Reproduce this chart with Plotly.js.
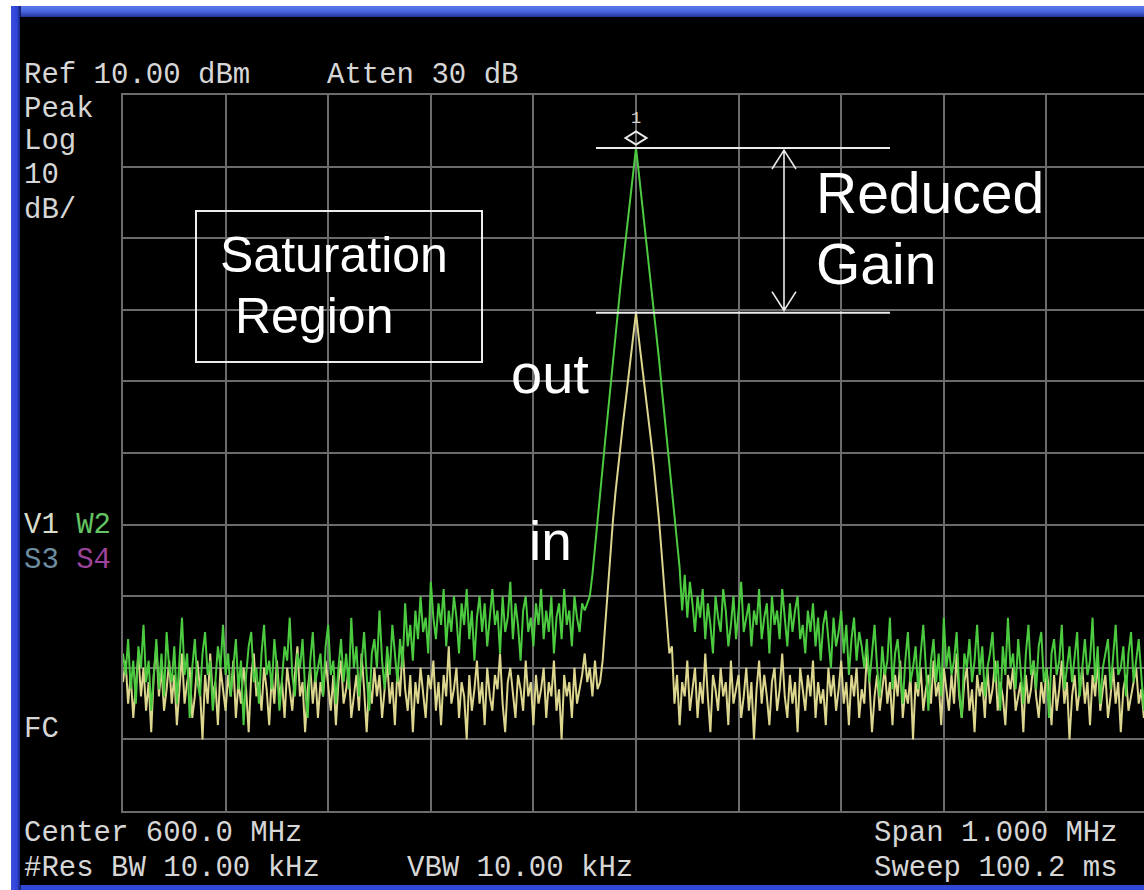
<!DOCTYPE html>
<html>
<head>
<meta charset="utf-8">
<script src="https://cdn.plot.ly/plotly-3.0.1.min.js"></script>
<style>
  html, body { margin: 0; padding: 0; background: #ffffff; width: 1144px; height: 890px; overflow: hidden; }
  #frame { position: absolute; left: 11px; top: 6px; width: 1133px; height: 884px; background: #3148d6; }
  #topband { position: absolute; left: 11px; top: 6px; width: 1133px; height: 12px;
             background: linear-gradient(to bottom, #5b78ea 0%, #4a66e2 45%, #1c2a8a 100%); }
  #leftband { position: absolute; left: 11px; top: 6px; width: 10px; height: 884px;
              background: linear-gradient(to right, #3a4fe0 0%, #2f44d8 60%, #101a60 100%); }
  #chart { position: absolute; left: 20px; top: 17px; width: 1124px; height: 868px; background: #000; }
</style>
</head>
<body>
<div id="frame"></div>
<div id="topband"></div>
<div id="leftband"></div>
<div id="chart"></div>
<script>
// Analyzer settings
const CENTER_MHZ = 600.0;
const SPAN_MHZ = 1.0;
const REF_DBM = 10;
const DB_PER_DIV = 10;
const DIVS = 10;

// Header / footer annotation texts
const refText = 'Ref 10.00 dBm';
const attenText = 'Atten 30 dB';
const leftLabels = ['Peak', 'Log', '10', 'dB/'];
const centerText = 'Center 600.0 MHz';
const rbwText = '#Res BW 10.00 kHz';
const vbwText = 'VBW 10.00 kHz';
const spanText = 'Span 1.000 MHz';
const sweepText = 'Sweep 100.2 ms';

// Trace 1 (amplifier input), dBm per sweep point (401 points)
const traceIn = [
  -72,-69,-75,-71,-77,-73,-68,-74,-70,-76,-72,-79,-71,-67,-74,-70,-76,-73,-69,-75,
  -71,-78,-73,-68,-75,-72,-70,-77,-74,-69,-73,-80,-71,-75,-68,-74,-72,-78,-70,-73,
  -76,-71,-74,-69,-77,-72,-75,-70,-73,-79,-71,-68,-74,-72,-76,-70,-73,-78,-71,-75,
  -69,-74,-72,-77,-70,-73,-76,-71,-67,-74,-72,-79,-73,-70,-75,-71,-77,-72,-74,-69,
  -73,-76,-71,-78,-72,-69,-75,-73,-70,-77,-74,-71,-76,-68,-73,-79,-72,-75,-70,-74,
  -71,-77,-73,-69,-75,-72,-78,-70,-74,-67,-73,-76,-71,-79,-72,-75,-70,-74,-77,-71,
  -73,-69,-76,-72,-78,-71,-74,-67,-75,-73,-70,-77,-72,-74,-80,-71,-76,-73,-69,-75,
  -72,-78,-70,-74,-76,-71,-73,-68,-75,-79,-72,-70,-74,-77,-71,-73,-76,-69,-74,-72,
  -78,-71,-75,-73,-70,-77,-72,-74,-69,-76,-73,-80,-71,-74,-72,-77,-70,-75,-73,-71,
  -68,-72,-70,-74,-69,-73,
  -72,-69,-64,-59,-54,-49.5,-45.5,-42,-38.7,-35.6,-32.6,-29.5,-26.6,-23.7,
  -20.4,
  -23.7,-26.6,-29.5,-32.6,-35.6,-38.7,-42,-45.5,-49.5,-54,-59,-64,-68,-67,
  -75,-71,-78,-72,-74,-69,-76,-73,-70,-77,-72,-75,-68,-74,-79,-71,-73,-76,-70,-74,
  -72,-78,-69,-75,-73,-71,-77,-74,-70,-76,-72,-80,-73,-69,-75,-71,-74,-78,-72,-70,
  -76,-73,-68,-74,-77,-71,-75,-72,-79,-70,-73,-76,-71,-74,-69,-77,-72,-75,-73,-78,
  -70,-74,-71,-76,-73,-69,-75,-72,-78,-71,-74,-70,-77,-73,-75,-68,-72,-79,-74,-71,
  -76,-73,-70,-75,-72,-78,-71,-74,-69,-77,-73,-75,-71,-80,-72,-74,-70,-76,-73,-71,
  -75,-69,-74,-72,-78,-70,-73,-76,-71,-75,-68,-74,-77,-72,-70,-76,-73,-79,-71,-74,
  -72,-77,-70,-75,-73,-69,-76,-72,-74,-78,-71,-73,-70,-76,-74,-72,-79,-71,-75,-73,
  -69,-74,-77,-72,-75,-70,-73,-78,-71,-76,-73,-69,-75,-72,-80,-74,-71,-76,-73,-70,
  -75,-72,-78,-71,-74,-69,-76,-73,-71,-77,-74,-70,-75,-72,-79,-73,-71,-76,-74,-72,
  -70,-75,-73,-77,-71,-74
];

// Trace 2 (amplifier output), dBm per sweep point (401 points)
const traceOut = [
  -68,-71,-66,-73,-69,-75,-67,-70,-64,-72,-69,-76,-71,-66,-73,-68,-74,-65,-70,-72,
  -67,-75,-69,-63,-71,-68,-77,-70,-66,-72,-74,-68,-65,-71,-69,-76,-72,-67,-70,-64,
  -71,-68,-74,-70,-66,-73,-69,-78,-71,-67,-65,-72,-70,-75,-68,-64,-71,-69,-73,-66,
  -70,-76,-72,-67,-69,-63,-71,-74,-68,-70,-66,-73,-77,-69,-65,-72,-70,-68,-74,-67,
  -64,-71,-69,-75,-70,-66,-72,-68,-73,-63,-70,-67,-74,-69,-65,-71,-76,-68,-66,-70,
  -62,-69,-73,-67,-71,-64,-68,-72,-66,-70,
  -61,-67,-64,-69,-62,-66,-60,-65,-63,-68,
  -58,-63,-66,-61,-64,-59,-67,-62,-65,-60,-63,-68,-61,-64,-59,-66,-62,-69,-63,-60,
  -65,-61,-67,-63,-59,-64,-62,-68,-60,-65,-63,-58,-66,-61,-64,-69,-62,-60,-65,-63,
  -67,-61,-64,-59,-66,-62,-65,-60,-68,-63,-61,-66,-59,-64,-62,-67,-60,-63,-65,-61,
  -62,-61,
  -60,-57,-53,-49.4,-45.7,-42,-38.2,-34.5,-30.8,-27,-23.3,-19.8,-16.5,-13.3,-10.2,-7,-3.8,-0.6,
  2.6,
  -0.6,-3.8,-7,-10.2,-13.3,-16.5,-19.8,-23.3,-27,-30.8,-34.5,-38.2,-42,-45.7,-49.4,-53,
  -56,-62,-57,-63,-58,-61,-65,-60,
  -63,-59,-66,-61,-64,-68,-60,-63,-65,-59,-62,-67,-64,-60,-66,-62,-58,-65,-63,-61,
  -67,-62,-64,-59,-66,-63,-61,-68,-60,-64,-62,-66,-59,-63,-67,-61,-65,-62,-60,-66,
  -64,-68,-62,-65,-61,-67,-63,-69,-64,-62,-66,-70,-63,-67,-65,-62,-68,-64,-71,-66,-63,-69,-65,-67,-70,
  -66,-72,-68,-64,-70,-74,-67,-71,-69,-63,-73,-68,-66,-71,-75,-69,-65,-72,-70,-67,
  -73,-68,-64,-70,-76,-69,-66,-72,-68,-74,-63,-70,-67,-71,-69,-65,-73,-77,-68,-70,
  -66,-72,-69,-64,-71,-67,-74,-70,-68,-65,-72,-69,-76,-67,-71,-63,-70,-68,-73,-66,
  -70,-75,-68,-64,-71,-69,-73,-67,-65,-72,-70,-77,-68,-66,-71,-69,-64,-73,-70,-67,
  -72,-68,-65,-74,-70,-66,-71,-69,-63,-72,-67,-75,-70,-68,-66,-73,-69,-64,-71,-70,
  -67,-74,-68,-65,-72,-69,-66,-71,-76,-68,-70
];

// Frequency of each sweep point across the span
const startMHz = CENTER_MHZ - SPAN_MHZ / 2;
const sweepFreqs = arr => arr.map((_, i) => startMHz + i * SPAN_MHZ / (arr.length - 1));

// Figure geometry (page pixels)
const FIG_LEFT = 20, FIG_TOP = 17, FIG_W = 1124, FIG_H = 868;
const PLOT_L = 123, PLOT_T = 95, PLOT_B = 811, PLOT_R = 1144;
const DIV_PX = 102.6;                       // width of one horizontal division
const plotW = PLOT_R - PLOT_L, plotH = PLOT_B - PLOT_T;
const px = x => (x - PLOT_L) / plotW;       // page x -> paper x
const py = y => (PLOT_B - y) / plotH;       // page y -> paper y
const mhzPerPx = (SPAN_MHZ / DIVS) / DIV_PX;
const dbPerPx = (DB_PER_DIV * DIVS) / plotH;

const peakOut = Math.max(...traceOut);
const peakIn = Math.max(...traceIn);

const MONO = 'Liberation Mono, DejaVu Sans Mono, monospace';
const SANS = 'Liberation Sans, Arial, sans-serif';
const txtCol = '#d6d6d6';

function mono(text, x, y, opts) {
  return Object.assign({
    text: text, xref: 'paper', yref: 'paper', x: px(x), y: py(y),
    xanchor: 'left', yanchor: 'middle', showarrow: false,
    font: { family: MONO, size: 29, color: txtCol }
  }, opts || {});
}
function big(text, x, y, size) {
  return {
    text: text, xref: 'paper', yref: 'paper', x: px(x), y: py(y),
    xanchor: 'left', yanchor: 'middle', showarrow: false,
    font: { family: SANS, size: size, color: '#ffffff' }
  };
}

const annotations = [
  mono(refText, 22, 76),
  mono(attenText, 325, 76),
  mono(leftLabels[0], 22, 109.5),
  mono(leftLabels[1], 22, 141),
  mono(leftLabels[2], 22, 175),
  mono(leftLabels[3], 22, 210),
  mono('<span style="color:#d8dccb">V1</span> <span style="color:#63c463">W2</span>', 22, 525),
  mono('<span style="color:#6d8ea0">S3</span> <span style="color:#9c449c">S4</span>', 22, 560),
  mono('FC', 22, 729),
  mono(centerText, 22, 833),
  mono(rbwText, 22, 868),
  mono(vbwText, 405, 868),
  mono(spanText, 1120, 833, { xanchor: 'right' }),
  mono(sweepText, 1120, 868, { xanchor: 'right' }),
  // marker number above the peak marker
  { text: '1', xref: 'x', yref: 'paper', x: CENTER_MHZ, y: py(119), xanchor: 'center', yanchor: 'middle',
    showarrow: false, font: { family: MONO, size: 17, color: txtCol } },
  big('Saturation', 218, 254.5, 50),
  big('Region', 233, 315.5, 50),
  big('Reduced', 814, 193, 57),
  big('Gain', 814, 264, 57),
  big('out', 509, 373, 56),
  big('in', 527, 541, 55)
];

// Gain-compression bracket between the two peak levels
const lineX0 = startMHz + (596 - PLOT_L) * mhzPerPx;
const lineX1 = startMHz + (890 - PLOT_L) * mhzPerPx;
const arrowX = startMHz + (784 - PLOT_L) * mhzPerPx;
const headDx = 12 * mhzPerPx, headDy = 21 * dbPerPx;
const mkW = 10.5 * mhzPerPx, mkH = 6.5 * dbPerPx, mkC = peakOut + 10 * dbPerPx;
const white = '#ececec';

const shapes = [
  { type: 'line', xref: 'x', yref: 'y', x0: lineX0, x1: lineX1, y0: peakOut, y1: peakOut, line: { color: white, width: 2 } },
  { type: 'line', xref: 'x', yref: 'y', x0: lineX0, x1: lineX1, y0: peakIn, y1: peakIn, line: { color: white, width: 2 } },
  { type: 'path', xref: 'x', yref: 'y', line: { color: white, width: 1.6 },
    path: `M${arrowX},${peakOut - 0.3}L${arrowX},${peakIn + 0.3}` +
          `M${arrowX - headDx},${peakOut - headDy}L${arrowX},${peakOut - 0.3}L${arrowX + headDx},${peakOut - headDy}` +
          `M${arrowX - headDx},${peakIn + headDy}L${arrowX},${peakIn + 0.3}L${arrowX + headDx},${peakIn + headDy}` },
  // peak marker diamond
  { type: 'path', xref: 'x', yref: 'y', line: { color: white, width: 2 },
    path: `M${CENTER_MHZ - mkW},${mkC}L${CENTER_MHZ},${mkC + mkH}L${CENTER_MHZ + mkW},${mkC}L${CENTER_MHZ},${mkC - mkH}Z` },
  // label box
  { type: 'rect', xref: 'paper', yref: 'paper', x0: px(196), x1: px(482), y0: py(211), y1: py(362),
    line: { color: white, width: 2 } }
];

const traces = [
  { x: sweepFreqs(traceIn), y: traceIn, type: 'scatter', mode: 'lines',
    line: { color: '#dcd68e', width: 2 }, hoverinfo: 'skip' },
  { x: sweepFreqs(traceOut), y: traceOut, type: 'scatter', mode: 'lines',
    line: { color: '#4cca40', width: 2 }, hoverinfo: 'skip' }
];

const gridCol = '#6b6b6b';
const layout = {
  width: FIG_W, height: FIG_H,
  margin: { l: PLOT_L - FIG_LEFT, r: 0, t: PLOT_T - FIG_TOP, b: FIG_TOP + FIG_H - PLOT_B, pad: 0 },
  paper_bgcolor: '#000000', plot_bgcolor: '#000000',
  showlegend: false,
  xaxis: {
    range: [startMHz, startMHz + plotW * mhzPerPx],
    tick0: startMHz, dtick: SPAN_MHZ / DIVS,
    showgrid: true, gridcolor: gridCol, gridwidth: 2,
    showline: true, linecolor: gridCol, linewidth: 2, mirror: true,
    zeroline: false, showticklabels: false, ticks: ''
  },
  yaxis: {
    range: [REF_DBM - DB_PER_DIV * DIVS, REF_DBM],
    tick0: REF_DBM, dtick: DB_PER_DIV,
    showgrid: true, gridcolor: gridCol, gridwidth: 2,
    showline: true, linecolor: gridCol, linewidth: 2, mirror: false,
    zeroline: false, showticklabels: false, ticks: ''
  },
  annotations: annotations,
  shapes: shapes
};

Plotly.newPlot('chart', traces, layout, { displayModeBar: false, staticPlot: true });
</script>
</body>
</html>
